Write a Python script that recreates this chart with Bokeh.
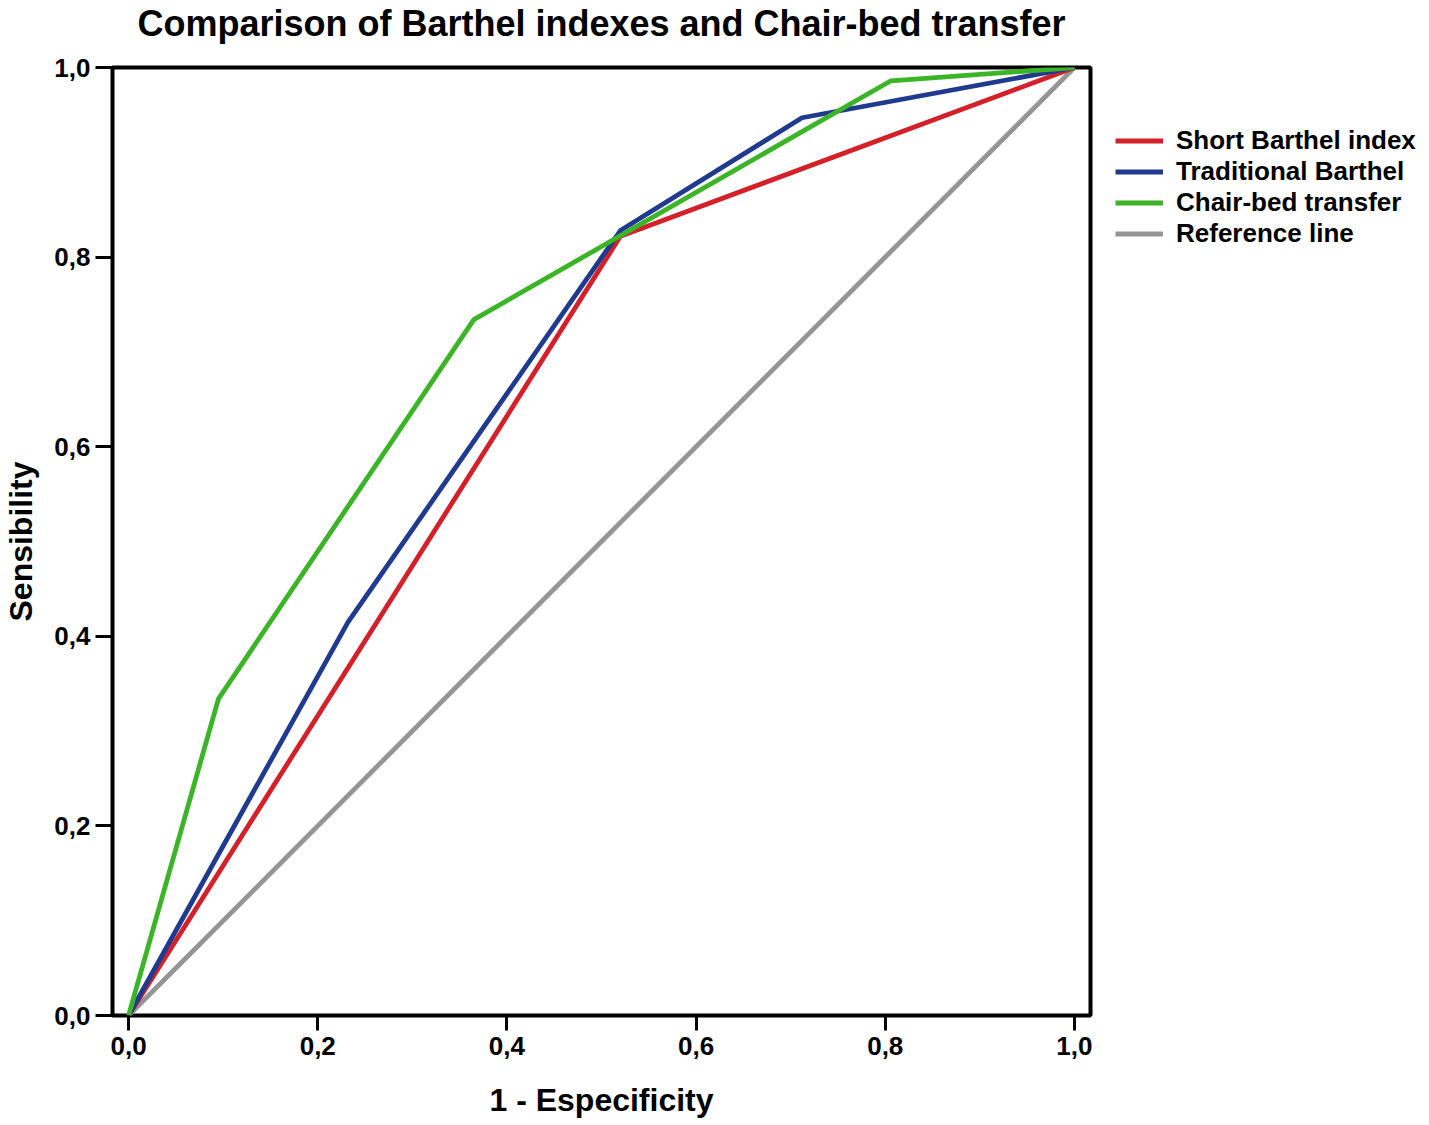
from bokeh.plotting import figure
from bokeh.models import FixedTicker, Legend, LegendItem, Range1d, Title
from bokeh.embed import file_html
from bokeh.resources import INLINE

# ---- data ----
ticks = [0.0, 0.2, 0.4, 0.6, 0.8, 1.0]
tick_labels = ["0,0", "0,2", "0,4", "0,6", "0,8", "1,0"]

short_x = [0.0, 0.52, 1.0]
short_y = [0.0, 0.822, 1.0]

trad_x = [0.0, 0.232, 0.52, 0.712, 1.0]
trad_y = [0.0, 0.415, 0.828, 0.947, 1.0]

chair_x = [0.0, 0.095, 0.365, 0.806, 1.0]
chair_y = [0.0, 0.334, 0.734, 0.986, 1.0]

ref_x = [0.0, 1.0]
ref_y = [0.0, 1.0]

title_text = "Comparison of Barthel indexes and Chair-bed transfer"
series_names = ["Short Barthel index", "Traditional Barthel", "Chair-bed transfer", "Reference line"]
colors = ["#d42029", "#1f3a8f", "#3bb527", "#959595"]

FONT = "Liberation Sans"

p = figure(
    frame_width=978, frame_height=948,
    min_border_left=100, min_border_right=333, min_border_top=67, min_border_bottom=102,
    x_range=Range1d(-0.017, 1.017), y_range=Range1d(0.0, 1.0),
    output_backend="svg", toolbar_location=None,
)

main_title = Title(
    text=title_text, text_font=FONT, text_font_size="36px", text_font_style="bold",
    align="center", text_color="black", standoff=0,
)
spacer = Title(text=" ", text_font=FONT, text_font_size="20px", standoff=0)
p.title = None
p.above = [spacer, main_title]

p.grid.visible = False
p.background_fill_color = "white"
p.border_fill_color = "white"
p.outline_line_color = "black"
p.outline_line_width = 4

label_map = {t: l for t, l in zip(ticks, tick_labels)}
for ax in (p.xaxis[0], p.yaxis[0]):
    ax.ticker = FixedTicker(ticks=ticks)
    ax.major_label_overrides = label_map
    ax.axis_line_color = None
    ax.major_tick_line_color = "black"
    ax.major_tick_line_width = 3
    ax.major_tick_in = 0
    ax.minor_tick_line_color = None
    ax.major_label_text_font = FONT
    ax.major_label_text_font_style = "bold"
    ax.major_label_text_font_size = "26px"
    ax.major_label_text_color = "black"
    ax.axis_label_text_font = FONT
    ax.axis_label_text_font_style = "bold"
    ax.axis_label_text_font_size = "32px"
    ax.axis_label_text_color = "black"

p.xaxis.axis_label = "1 - Especificity"
p.yaxis.axis_label = "Sensibility"
p.xaxis.major_tick_out = 15
p.yaxis.major_tick_out = 17
p.xaxis.major_label_standoff = 6
p.yaxis.major_label_standoff = 5
p.xaxis.axis_label_standoff = 24
p.yaxis.axis_label_standoff = 12

r_ref = p.line(ref_x, ref_y, line_color=colors[3], line_width=4.8)
r_short = p.line(short_x, short_y, line_color=colors[0], line_width=4.8)
r_trad = p.line(trad_x, trad_y, line_color=colors[1], line_width=4.8)
r_chair = p.line(chair_x, chair_y, line_color=colors[2], line_width=4.8)

legend = Legend(
    items=[
        LegendItem(label=series_names[0], renderers=[r_short]),
        LegendItem(label=series_names[1], renderers=[r_trad]),
        LegendItem(label=series_names[2], renderers=[r_chair]),
        LegendItem(label=series_names[3], renderers=[r_ref]),
    ],
    location=(25, 766),
    border_line_color=None,
    background_fill_alpha=0,
    padding=0, margin=0, spacing=0,
    glyph_width=48, glyph_height=31, label_height=31,
    label_standoff=13,
    label_text_font=FONT, label_text_font_style="bold",
    label_text_font_size="26px", label_text_color="black",
)
p.add_layout(legend, "right")

open("out.html", "w").write(file_html(p, INLINE))
